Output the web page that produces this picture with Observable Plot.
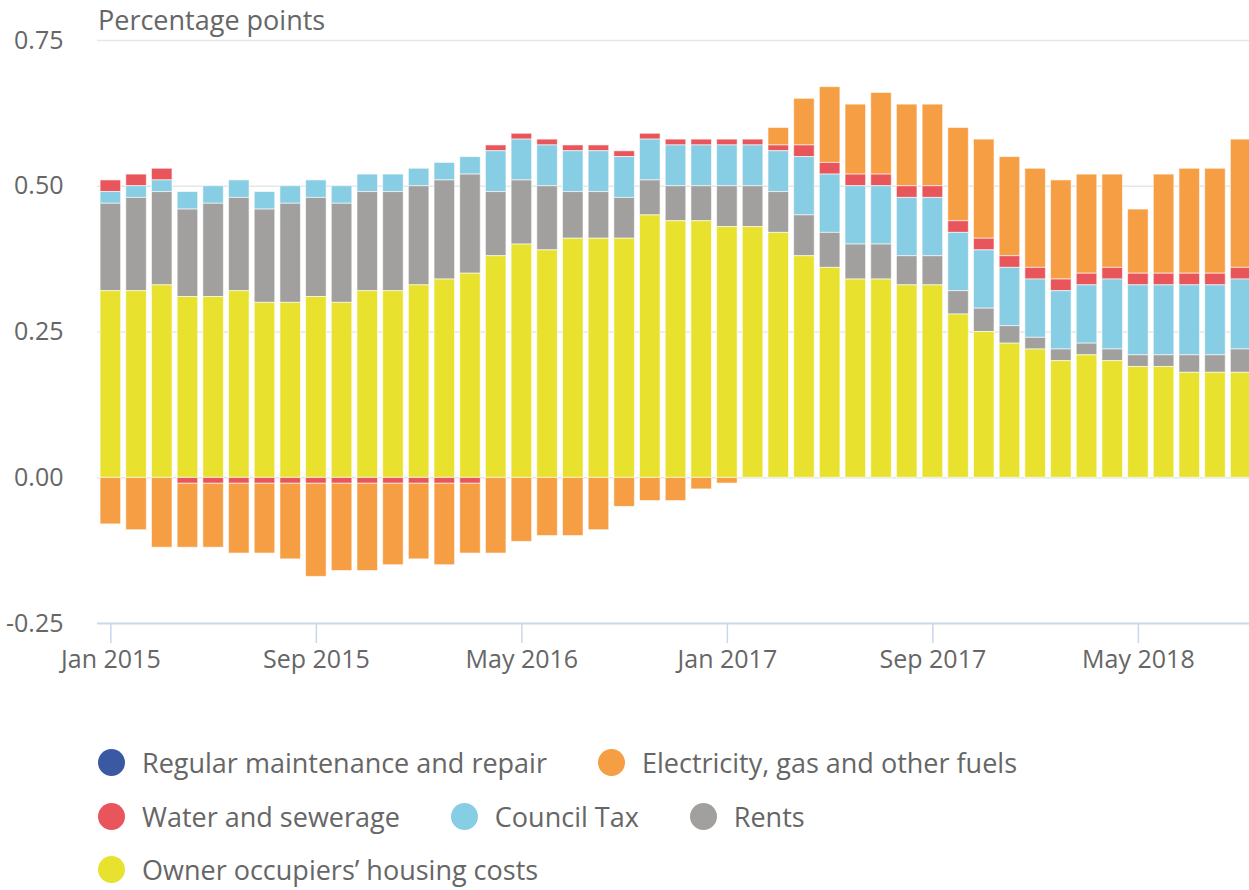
<!DOCTYPE html>
<html>
<head>
<meta charset="utf-8">
<script src="https://cdn.jsdelivr.net/npm/d3@7"></script>
<script src="https://cdn.jsdelivr.net/npm/@observablehq/plot@0.6"></script>
<style>
  html, body { margin: 0; padding: 0; background: #fff; }
  body { width: 1249px; height: 890px; position: relative; overflow: hidden; font-family: "Open Sans", sans-serif; }
  #title { position: absolute; left: 98px; top: 0px; font-size: 27px; line-height: 40px; color: #666; white-space: nowrap; }
  #chart { position: absolute; left: 0; top: 0; }
  #legend { position: absolute; left: 98px; top: 736px; font-size: 27px; color: #666; }
  .row { display: flex; align-items: center; height: 53.5px; gap: 51px; }
  .item { display: flex; align-items: center; white-space: nowrap; }
  .dot { width: 27px; height: 27px; border-radius: 50%; margin-right: 17px; flex: none; }
</style>
</head>
<body>
<div id="chart"></div>
<div id="title">Percentage points</div>
<div id="legend"></div>
<script>
// Categories (months)
const months = [
  "Jan 2015","Feb 2015","Mar 2015","Apr 2015","May 2015","Jun 2015","Jul 2015","Aug 2015","Sep 2015","Oct 2015","Nov 2015","Dec 2015",
  "Jan 2016","Feb 2016","Mar 2016","Apr 2016","May 2016","Jun 2016","Jul 2016","Aug 2016","Sep 2016","Oct 2016","Nov 2016","Dec 2016",
  "Jan 2017","Feb 2017","Mar 2017","Apr 2017","May 2017","Jun 2017","Jul 2017","Aug 2017","Sep 2017","Oct 2017","Nov 2017","Dec 2017",
  "Jan 2018","Feb 2018","Mar 2018","Apr 2018","May 2018","Jun 2018","Jul 2018","Aug 2018","Sep 2018"
];
const tickMonths = ["Jan 2015","Sep 2015","May 2016","Jan 2017","Sep 2017","May 2018"];
const yTicks = [-0.25, 0, 0.25, 0.5, 0.75];

// Series names
const seriesNames = [
  "Regular maintenance and repair",
  "Electricity, gas and other fuels",
  "Water and sewerage",
  "Council Tax",
  "Rents",
  "Owner occupiers\u2019 housing costs"
];
const seriesColors = ["#3b58a3", "#f59e43", "#e8555a", "#87cde3", "#a1a09f", "#e8e22e"];

// Series values (percentage points)
const maintenance = [
  0,0,0,0,0,0,0,0,0,0,0,0,
  0,0,0,0,0,0,0,0,0,0,0,0,
  0,0,0,0,0,0,0,0,0,0,0,0,
  0,0,0,0,0,0,0,0,0
];
const electricity = [
  -0.08,-0.09,-0.12,-0.11,-0.11,-0.12,-0.12,-0.13,-0.16,-0.15,-0.15,-0.14,
  -0.13,-0.14,-0.12,-0.13,-0.11,-0.10,-0.10,-0.09,-0.05,-0.04,-0.04,-0.02,
  -0.01,0,0.03,0.08,0.13,0.12,0.14,0.14,0.14,0.16,0.17,0.17,
  0.17,0.17,0.17,0.16,0.11,0.17,0.18,0.18,0.22
];
const water = [
  0.02,0.02,0.02,-0.01,-0.01,-0.01,-0.01,-0.01,-0.01,-0.01,-0.01,-0.01,
  -0.01,-0.01,-0.01,0.01,0.01,0.01,0.01,0.01,0.01,0.01,0.01,0.01,
  0.01,0.01,0.01,0.02,0.02,0.02,0.02,0.02,0.02,0.02,0.02,0.02,
  0.02,0.02,0.02,0.02,0.02,0.02,0.02,0.02,0.02
];
const councilTax = [
  0.02,0.02,0.02,0.03,0.03,0.03,0.03,0.03,0.03,0.03,0.03,0.03,
  0.03,0.03,0.03,0.07,0.07,0.07,0.07,0.07,0.07,0.07,0.07,0.07,
  0.07,0.07,0.07,0.10,0.10,0.10,0.10,0.10,0.10,0.10,0.10,0.10,
  0.10,0.10,0.10,0.12,0.12,0.12,0.12,0.12,0.12
];
const rents = [
  0.15,0.16,0.16,0.15,0.16,0.16,0.16,0.17,0.17,0.17,0.17,0.17,
  0.17,0.17,0.17,0.11,0.11,0.11,0.08,0.08,0.07,0.06,0.06,0.06,
  0.07,0.07,0.07,0.07,0.06,0.06,0.06,0.05,0.05,0.04,0.04,0.03,
  0.02,0.02,0.02,0.02,0.02,0.02,0.03,0.03,0.04
];
const ownerOccupiers = [
  0.32,0.32,0.33,0.31,0.31,0.32,0.30,0.30,0.31,0.30,0.32,0.32,
  0.33,0.34,0.35,0.38,0.40,0.39,0.41,0.41,0.41,0.45,0.44,0.44,
  0.43,0.43,0.42,0.38,0.36,0.34,0.34,0.33,0.33,0.28,0.25,0.23,
  0.22,0.20,0.21,0.20,0.19,0.19,0.18,0.18,0.18
];

const seriesValues = [maintenance, electricity, water, councilTax, rents, ownerOccupiers];
// Stack order from the zero line outward
const stackOrder = [seriesNames[5], seriesNames[4], seriesNames[3], seriesNames[2], seriesNames[1], seriesNames[0]];

const rows = [];
months.forEach((m, i) => {
  seriesNames.forEach((name, k) => {
    const v = seriesValues[k][i];
    if (v !== 0) rows.push({month: m, series: name, value: v});
  });
});

const chart = Plot.plot({
  width: 1249,
  height: 690,
  marginTop: 40,
  marginBottom: 67,
  marginLeft: 97,
  marginRight: 0,
  style: {fontFamily: "Open Sans", fontSize: "25px", color: "#666", background: "transparent", overflow: "visible"},
  x: {type: "band", domain: months, range: [97, 1254], paddingInner: 0.2, paddingOuter: 0.12, label: null},
  y: {domain: [-0.25, 0.75], label: null},
  color: {domain: seriesNames, range: seriesColors},
  marks: [
    Plot.ruleY([0, 0.25, 0.5, 0.75], {stroke: "#e6e6e6", strokeWidth: 1.5}),
    Plot.barY(rows, Plot.stackY({order: stackOrder}, {
      x: "month", y: "value", fill: "series", stroke: "white", strokeWidth: 1, strokeOpacity: 0.6
    })),
    Plot.ruleY([-0.25], {stroke: "#ccd6eb", strokeWidth: 2}),
    Plot.axisY({ticks: yTicks, tickFormat: d => d.toFixed(2), tickSize: 0, tickPadding: 34, fontSize: 25, fill: "#666", label: null}),
    Plot.axisX({ticks: tickMonths, tickSize: 20, tickPadding: 7, stroke: "#ccd6eb", strokeWidth: 1.5, strokeOpacity: 1, fontSize: 25, fill: "#666", label: null})
  ]
});
document.getElementById("chart").appendChild(chart);

// Legend (HTML), laid out as in the original
const legendRows = [[0, 1], [2, 3, 4], [5]];
const legend = document.getElementById("legend");
legendRows.forEach(r => {
  const row = document.createElement("div");
  row.className = "row";
  r.forEach(k => {
    const it = document.createElement("div");
    it.className = "item";
    const dot = document.createElement("span");
    dot.className = "dot";
    dot.style.background = seriesColors[k];
    const t = document.createElement("span");
    t.textContent = seriesNames[k];
    it.appendChild(dot);
    it.appendChild(t);
    row.appendChild(it);
  });
  legend.appendChild(row);
});
</script>
</body>
</html>
